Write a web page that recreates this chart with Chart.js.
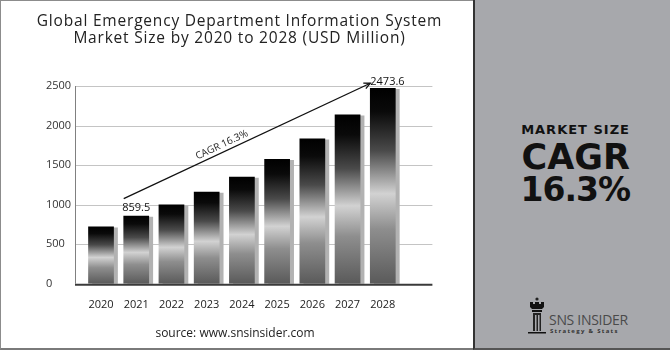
<!DOCTYPE html>
<html>
<head>
<meta charset="utf-8">
<script src="https://cdn.jsdelivr.net/npm/chart.js@4.4.0/dist/chart.umd.min.js"></script>
<style>
  body { margin: 0; background: #fff; }
  #wrap { position: relative; width: 670px; height: 350px; overflow: hidden; background: #fff; font-family: "Open Sans", sans-serif; }
  #frame { position: absolute; left: 0; top: 0; width: 474px; height: 350px; box-sizing: border-box;
    border-top: 1px solid #8c8c8c; border-left: 1px solid #8c8c8c; border-bottom: 2px solid #7a7a7a; }
  #c { position: absolute; left: 0; top: 0; }
  #title { position: absolute; left: 3px; top: 12px; width: 473px; text-align: center; font-size: 15.5px; line-height: 17px; letter-spacing: 0.8px; color: #222; }
  #source { position: absolute; left: 0; top: 325px; width: 470px; text-align: center; font-size: 12px; line-height: 16px; color: #222; }
  #panel { position: absolute; left: 473px; top: 0; width: 197px; height: 350px; box-sizing: border-box; background: #a7a8ac;
    border-left: 2px solid #333; border-bottom: 2px solid #555; }
  .big { position: absolute; right: 40px; font-family: "DejaVu Sans", sans-serif; font-weight: bold; color: #111; text-align: right; white-space: nowrap; }
  #ms { top: 122px; font-size: 13px; line-height: 15px; letter-spacing: 1px; }
  #cagr { top: 138px; font-size: 35px; line-height: 38px; }
  #pct { top: 171px; font-size: 33px; line-height: 38px; letter-spacing: -1px; }
  #logo { position: absolute; left: 52px; top: 297px; }
  #sns { position: absolute; left: 74px; top: 312px; font-size: 14px; line-height: 16px; color: #4a4a4a; letter-spacing: -0.3px; white-space: nowrap; }
  #strat { position: absolute; left: 75px; top: 328px; font-size: 6px; line-height: 7px; font-weight: bold; color: #333; letter-spacing: 1.3px; white-space: nowrap; }
</style>
</head>
<body>
<div id="wrap">
  <div id="frame"></div>
  <canvas id="c" width="473" height="350"></canvas>
  <div id="title">Global Emergency Department Information System<br>Market Size by 2020 to 2028 (USD Million)</div>
  <div id="source">source: www.snsinsider.com</div>
  <div id="panel">
    <div class="big" id="ms">MARKET SIZE</div>
    <div class="big" id="cagr">CAGR</div>
    <div class="big" id="pct">16.3%</div>
    <svg id="logo" width="20" height="38" viewBox="0 0 20 38">
      <circle cx="10" cy="2" r="1.6" fill="#222"/>
      <path d="M3 5 h3 v2 h2 v-2 h4 v2 h2 v-2 h3 v5 l-2 2 h-10 l-2 -2 z" fill="#111"/>
      <path d="M5 13 h10 v2 h-10 z" fill="#111"/>
      <path d="M6 16 h8 v18 h-8 z" fill="#222"/>
      <path d="M8 18 h1.5 v16 h-1.5 z M11 18 h1.5 v16 h-1.5 z" fill="#a7a8ac"/>
      <path d="M1 35 h18 v1.5 h-18 z" fill="#111"/>
    </svg>
    <div id="sns">SNS INSIDER</div>
    <div id="strat">Strategy &amp; Stats</div>
  </div>
</div>
<script>
const years = ["2020", "2021", "2022", "2023", "2024", "2025", "2026", "2027", "2028"];
const marketSize = [722, 859.5, 1000, 1163, 1352, 1578, 1835, 2140, 2473.6];
const yTicks = [0, 500, 1000, 1500, 2000, 2500];
const labelledBars = [1, 8];
const cagrText = "CAGR 16.3%";
// arrow runs from just left of 2021 up to the 2028 label
const arrowFrom = { index: 1, value: 1075 };
const arrowTo = { index: 8, value: 2535 };

function barFill(c) {
  const chart = c.chart;
  const area = chart.chartArea;
  if (!area) return "#333";
  const y = chart.scales.y;
  const top = y.getPixelForValue(c.raw);
  const bottom = y.getPixelForValue(0);
  const g = chart.ctx.createLinearGradient(0, top, 0, bottom);
  g.addColorStop(0, "#000");
  g.addColorStop(0.12, "#0a0a0a");
  g.addColorStop(0.32, "#4a4a4a");
  g.addColorStop(0.54, "#d2d2d2");
  g.addColorStop(0.72, "#8e8e8e");
  g.addColorStop(1, "#5a5a5a");
  return g;
}

const decor = {
  id: "decor",
  beforeDatasetsDraw(chart) {
    const { ctx, chartArea, scales } = chart;
    const left = chartArea.left - 8.4, right = chartArea.right + 32;
    ctx.save();
    ctx.strokeStyle = "#c4c4c4";
    ctx.lineWidth = 1;
    scales.y.ticks.forEach(t => {
      if (t.value === 0) return;
      const py = Math.round(scales.y.getPixelForValue(t.value)) + 0.5;
      ctx.beginPath(); ctx.moveTo(left, py); ctx.lineTo(right, py); ctx.stroke();
    });
    ctx.strokeStyle = "#808080";
    ctx.beginPath();
    ctx.moveTo(Math.round(left) + 0.5, scales.y.getPixelForValue(2500));
    ctx.lineTo(Math.round(left) + 0.5, scales.y.getPixelForValue(0));
    ctx.stroke();
    ctx.restore();
    ctx.save();
    ctx.shadowColor = "#b2b2b2";
    ctx.shadowOffsetX = 4;
    ctx.shadowOffsetY = 1;
    ctx.shadowBlur = 0;
  },
  afterDatasetsDraw(chart) {
    const { ctx, chartArea, scales } = chart;
    ctx.restore();
    const left = chartArea.left - 8.4, right = chartArea.right + 32;
    const base = scales.y.getPixelForValue(0);
    ctx.save();
    ctx.strokeStyle = "#3a3a3a";
    ctx.lineWidth = 2;
    ctx.beginPath(); ctx.moveTo(left, base + 1); ctx.lineTo(right, base + 1); ctx.stroke();

    ctx.fillStyle = "#111";
    ctx.font = "11px 'Open Sans'";
    // value label on 2021
    const i0 = labelledBars[0];
    ctx.textAlign = "center";
    ctx.textBaseline = "bottom";
    ctx.fillText(String(marketSize[i0]), scales.x.getPixelForValue(i0), scales.y.getPixelForValue(marketSize[i0]) - 2);

    // arrow
    const half = 12.5;
    const x1 = scales.x.getPixelForValue(arrowFrom.index) - half;
    const y1 = scales.y.getPixelForValue(arrowFrom.value);
    const x2 = scales.x.getPixelForValue(arrowTo.index) - half;
    const y2 = scales.y.getPixelForValue(arrowTo.value);
    ctx.strokeStyle = "#111";
    ctx.lineWidth = 1.3;
    ctx.beginPath(); ctx.moveTo(x1, y1); ctx.lineTo(x2, y2); ctx.stroke();
    const ang = Math.atan2(y2 - y1, x2 - x1);
    ctx.beginPath();
    ctx.moveTo(x2 - 7 * Math.cos(ang - 0.45), y2 - 7 * Math.sin(ang - 0.45));
    ctx.lineTo(x2, y2);
    ctx.lineTo(x2 - 7 * Math.cos(ang + 0.45), y2 - 7 * Math.sin(ang + 0.45));
    ctx.stroke();

    // value label on 2028 at arrow tip
    const i1 = labelledBars[1];
    ctx.textAlign = "left";
    ctx.textBaseline = "middle";
    ctx.fillText(String(marketSize[i1]), x2, y2 - 1);

    // CAGR text along the arrow
    const mx = x1 + (x2 - x1) * 0.41, my = y1 + (y2 - y1) * 0.41;
    ctx.translate(mx + 7 * Math.sin(ang), my - 7 * Math.cos(ang));
    ctx.rotate(ang);
    ctx.font = "10px 'Open Sans'";
    ctx.textAlign = "center";
    ctx.fillStyle = "#222";
    ctx.fillText(cagrText, 0, 0);
    ctx.restore();
  }
};

new Chart(document.getElementById("c"), {
  type: "bar",
  data: {
    labels: years,
    datasets: [{
      data: marketSize,
      backgroundColor: barFill,
      borderWidth: 0,
      barPercentage: 0.73,
      categoryPercentage: 1
    }]
  },
  options: {
    responsive: false,
    animation: false,
    events: [],
    layout: { padding: { top: 86, right: 72.6, left: 46, bottom: 0 } },
    plugins: { legend: { display: false }, tooltip: { enabled: false } },
    scales: {
      x: {
        grid: { display: false },
        border: { display: false },
        ticks: { color: "#222", font: { family: "Open Sans", size: 11 }, padding: 7 },
        afterFit(s) { s.height = 66.3; }
      },
      y: {
        min: 0,
        max: 2500,
        afterBuildTicks(s) { s.ticks = yTicks.map(v => ({ value: v })); },
        grid: { display: false },
        border: { display: false },
        ticks: { color: "#333", font: { family: "Open Sans", size: 11 }, crossAlign: "far", callback: v => String(v) },
        afterFit(s) { s.width = 37.4; }
      }
    }
  },
  plugins: [decor]
});
</script>
</body>
</html>
